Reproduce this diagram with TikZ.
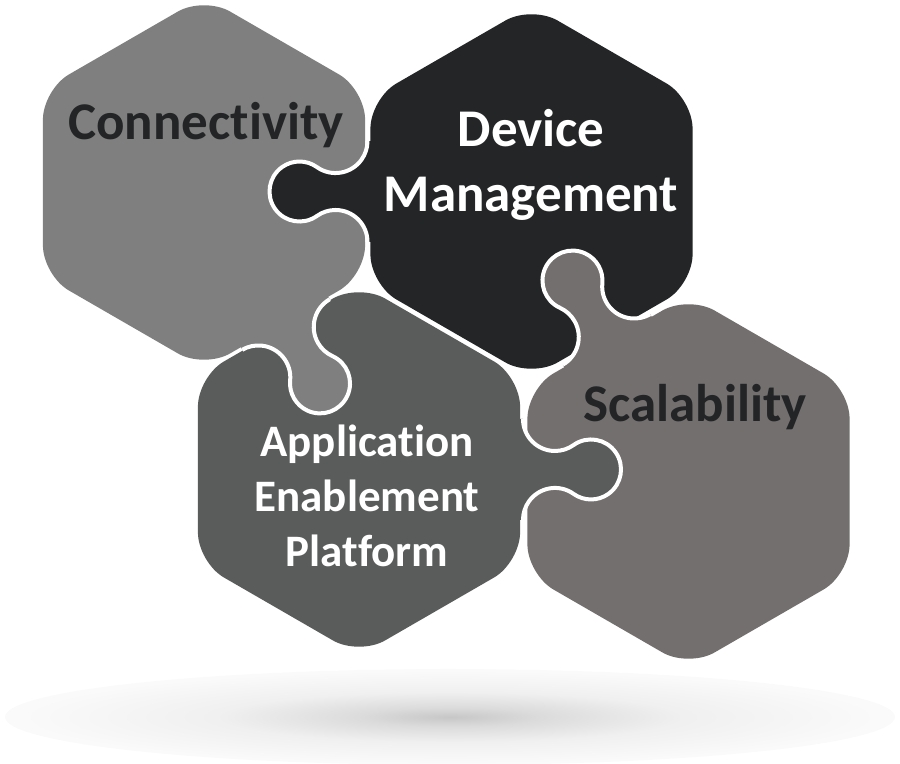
\documentclass[tikz,border=0pt]{standalone}
\usepackage{fontspec}
\setmainfont{Carlito}[Ligatures=NoCommon]
\definecolor{conncol}{HTML}{7F7F7F}
\definecolor{devcol}{HTML}{232527}
\definecolor{appcol}{HTML}{5A5B5B}
\definecolor{scalcol}{HTML}{736F6E}
\definecolor{inkcol}{HTML}{222426}
\pgfdeclareradialshading{floorshadow}{\pgfpoint{0bp}{0bp}}{color(0bp)=(black!22); color(5bp)=(black!14); color(13bp)=(black!6); color(24bp)=(black!2); color(33bp)=(white); color(50bp)=(white)}
\tikzset{
  tabcurve/.style={insert path={arc[start angle=180, end angle=305.5, radius=32]
      arc[start angle=125.5, end angle=-125.5, radius=30]
      arc[start angle=54.5, end angle=180, radius=32]}},
  tabline/.style={draw=white, line width=2pt},
  piecetext/.style={font=\bfseries\fontsize{26.5}{32.5}\selectfont, align=center, anchor=base}
}
\begin{document}
\begin{tikzpicture}[x=0.5pt, y=0.5pt]
    \useasboundingbox (0,0) rectangle (900,764);
    % piece centres
    \coordinate (conn) at (204,581.5);
    \coordinate (dev) at (531.5,572.5);
    \coordinate (app) at (359,294.5);
    \coordinate (scal) at (688.5,282.5);
    \coordinate (floor) at (450,47);
    % shadow on the floor
    \shade[shading=floorshadow] (floor) ellipse [x radius=445, y radius=48];
    % hexagons
    \foreach \piece/\col in {conn/conncol, dev/devcol, app/appcol, scal/scalcol}
      \fill[\col, rounded corners=15pt, shift={(\piece)}] (120:161.1) -- (150:186) -- (210:186)
        -- (270:186) -- (330:186) -- (30:186) -- (90:186) -- cycle;
    % puzzle tabs
    \foreach \piece/\dir/\col in {dev/180/devcol, scal/120/scalcol, conn/-60/conncol, app/0/appcol} {
      \begin{scope}[shift={(\piece)}, rotate=\dir]
        \fill[\col] (158,50.5) -- (164,50.5) [tabcurve] -- (158,-50.5) -- cycle;
        \draw[tabline] (164,50.5) [tabcurve];
      \end{scope}
    }
    % labels (base = last line)
    \node[piecetext, text=inkcol] (conntext) at (206,624) {Connectivity};
    \node[piecetext, text=white] (devtext) at (531,552) {Device\\Management};
    \node[piecetext, text=white, font=\bfseries\fontsize{22.5}{27.5}\selectfont] (apptext) at (367,197) {Application\\Enablement\\Platform};
    \node[piecetext, text=inkcol] (scaltext) at (695,342) {Scalability};
\end{tikzpicture}
\end{document}
